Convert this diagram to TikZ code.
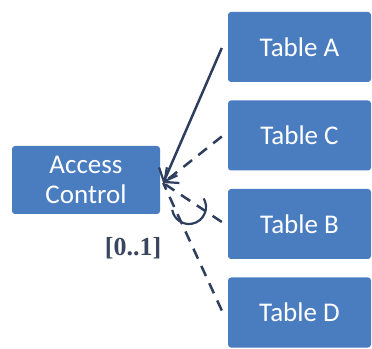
\documentclass[tikz,border=0pt]{standalone}
\usepackage{fontspec}
\setmainfont{Carlito}
\newfontfamily\lblfont{Liberation Serif}
\usetikzlibrary{arrows.meta}
\definecolor{boxblue}{HTML}{4A7DC0}
\definecolor{linenavy}{HTML}{2E3E5E}
\definecolor{lblgrey}{HTML}{3A4560}
\begin{document}
\begin{tikzpicture}[x=1pt,y=1pt,
  tablebox/.style={draw=none,fill=boxblue,rounded corners=3pt,
    minimum width=143pt,minimum height=70pt,text=white,
    font=\fontsize{27}{32}\selectfont,align=center},
  link/.style={draw=linenavy,line width=2.5pt},
  optlink/.style={link,dash pattern=on 11pt off 8pt},
  opentip/.style={-{Straight Barb[length=11pt,width=20pt,line width=2.2pt]}}]
\useasboundingbox (0,0) rectangle (372,348);

% source box and the four tables
\node[tablebox,minimum width=148pt,minimum height=68pt] (ac) at (86,168) {Access\\[-2pt]Control};
\node[tablebox] (ta) at (299.5,301) {Table A};
\node[tablebox] (tc) at (299.5,212.5) {Table C};
\node[tablebox] (tb) at (299.5,124) {Table B};
\node[tablebox] (td) at (299.5,35.5) {Table D};

% common arrow point just right of the source box
\coordinate (tip) at ([xshift=3pt,yshift=-3pt]ac.east);
\coordinate (ea) at ([xshift=-6pt,yshift=-1pt]ta.west);
\coordinate (ec) at ([xshift=-6pt,yshift=-1pt]tc.west);
\coordinate (eb) at ([xshift=-6pt,yshift=2pt]tb.west);
\coordinate (ed) at ([xshift=-6pt,yshift=2pt]td.west);

% associations
\draw[link,opentip] (ea) -- (tip);
\draw[optlink,opentip] (ec) -- (tip);
\draw[optlink] (eb) -- (tip);
\draw[optlink] (ed) -- (tip);

% exclusive-choice arc across the B and D links
\coordinate (arcc) at (189,141);
\draw[link,line width=2.2pt] ([shift={(190:17pt)}]arcc) arc[start angle=190,end angle=390,radius=17pt];

% multiplicity
\node[text=lblgrey,font=\lblfont\bfseries\fontsize{26}{28}\selectfont] (mult) at (133,100) {[0..1]};
\end{tikzpicture}
\end{document}
